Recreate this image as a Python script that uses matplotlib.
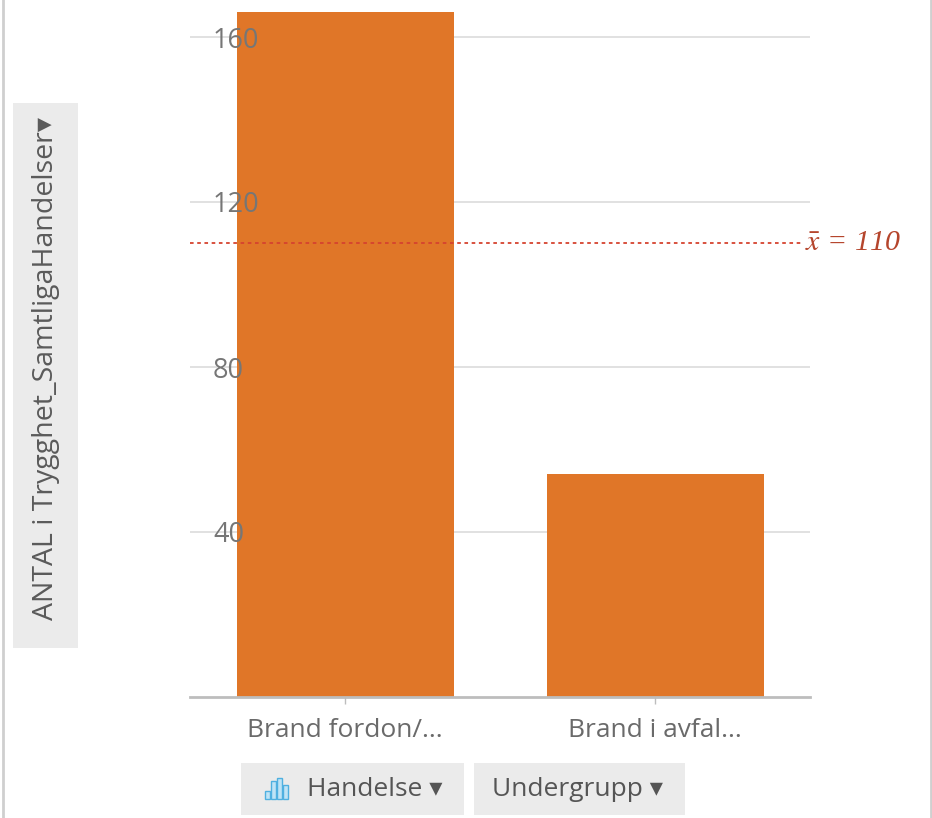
import matplotlib
matplotlib.use("Agg")
import matplotlib.pyplot as plt
from matplotlib.patches import Rectangle
import numpy as np

categories = ["Brand fordon/...", "Brand i avfal..."]
values = [166, 54]
yticks = [40, 80, 120, 160]
ylabel = "ANTAL i Trygghet_SamtligaHandelser"
buttons = ["Handelse", "Undergrupp"]

plt.rcParams['font.family'] = ['Open Sans', 'DejaVu Sans']
plt.rcParams['mathtext.fontset'] = 'stix'

W, H = 932, 818
fig = plt.figure(figsize=(W / 100, H / 100), dpi=100)
fig.patch.set_facecolor('white')

def fx(px):
    return px / W

def fy(py):
    return 1 - py / H

ax_left, ax_right, ax_bottom, ax_top = 190, 810, 697, 0
ax = fig.add_axes([fx(ax_left), fy(ax_bottom), fx(ax_right - ax_left), (ax_bottom - ax_top) / H])
ax.set_facecolor('none')
ymax = (ax_bottom - ax_top) / 4.125
ax.set_ylim(0, ymax)
ax.set_xlim(-0.5, len(categories) - 0.5)

x = np.arange(len(categories))
ax.hlines(yticks, -0.5, len(categories) - 0.5, colors='#dcdcdc', linewidth=1.2, zorder=0)
ax.bar(x, values, width=0.7, color='#E07628', zorder=1)

mean = float(np.mean(values))
ax.plot([-0.5, 1.47], [mean, mean], linestyle=(0, (2, 2)), color='#d6432f', linewidth=1.3, zorder=3,
        clip_on=False)
ax.text(1.485, mean, r'$\bar{x}$ = %d' % round(mean), color='#b5452c', fontsize=21.5,
        family=['Liberation Serif', 'DejaVu Serif'], fontstyle='italic',
        va='center', ha='left', clip_on=False)

for s in ['top', 'right', 'left']:
    ax.spines[s].set_visible(False)
ax.spines['bottom'].set_color('#bdbdbd')
ax.spines['bottom'].set_linewidth(2)

ax.set_yticks(yticks)
ax.set_yticklabels([str(t) for t in yticks])
ax.tick_params(axis='y', length=0, pad=-16.5, labelsize=19.5, labelcolor='#767676')
for lab in ax.get_yticklabels():
    lab.set_horizontalalignment('left')
    lab.set_zorder(5)

ax.set_xticks(x)
ax.set_xticklabels(categories)
ax.tick_params(axis='x', length=5, width=1, color='#bdbdbd', pad=10, labelsize=19, labelcolor='#6a6a6a')

# y label box
fig.patches.append(Rectangle((fx(13), fy(648)), fx(78 - 13), (648 - 103) / H,
                             transform=fig.transFigure, facecolor='#ebebeb', edgecolor='none'))
fig.text(fx(46), fy(368), ylabel + "\u25BE", rotation=90, ha='center', va='center',
         fontsize=20.5, color='#5a5a5a')

# bottom buttons
fig.patches.append(Rectangle((fx(241), fy(815)), fx(464 - 241), (815 - 763) / H,
                             transform=fig.transFigure, facecolor='#ebebeb', edgecolor='none'))
fig.patches.append(Rectangle((fx(474), fy(815)), fx(685 - 474), (815 - 763) / H,
                             transform=fig.transFigure, facecolor='#ebebeb', edgecolor='none'))
# bar icon
for bx, bh in [(265, 8), (271, 18), (277, 21), (283, 14)]:
    fig.patches.append(Rectangle((fx(bx), fy(799)), fx(5), bh / H, transform=fig.transFigure,
                                 facecolor='#bfe4f6', edgecolor='#4fb0e0', linewidth=1))
fig.text(fx(307), fy(790), buttons[0] + " \u25BE", ha='left', va='center', fontsize=19, color='#555555')
fig.text(fx(492), fy(790), buttons[1] + " \u25BE", ha='left', va='center', fontsize=19, color='#555555')

# frame borders
fig.add_artist(plt.Line2D([fx(3), fx(3)], [0, 1], transform=fig.transFigure, color='#cfcfcf', linewidth=2))
fig.add_artist(plt.Line2D([fx(931), fx(931)], [0, 1], transform=fig.transFigure, color='#cfcfcf', linewidth=2))

fig.savefig('out.png', dpi=100, facecolor='white')
